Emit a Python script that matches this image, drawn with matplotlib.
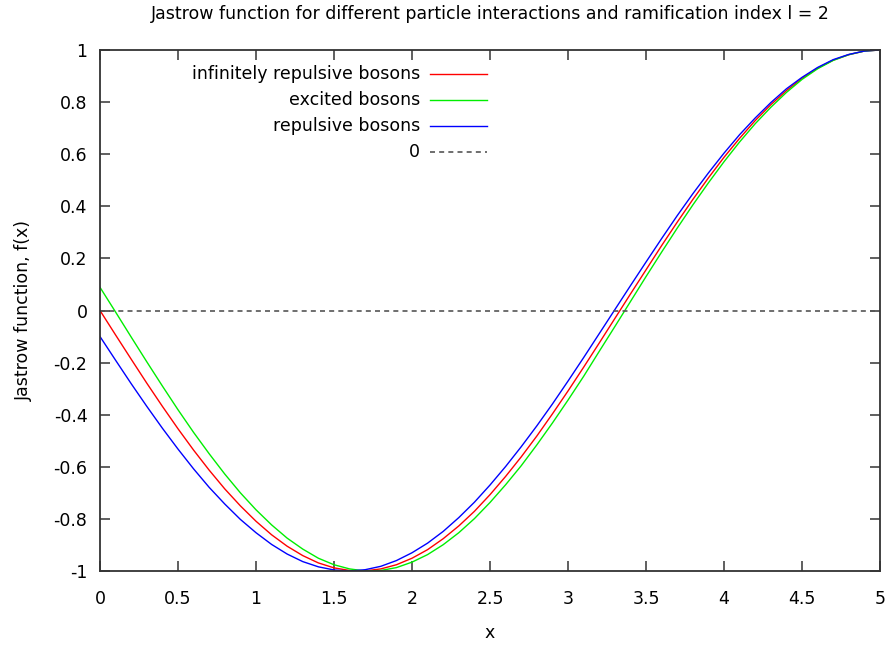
import matplotlib
matplotlib.use("Agg")
import matplotlib.pyplot as plt
import numpy as np

x_vals = [round(0.1 * i, 1) for i in range(51)]

infinitely_repulsive = [
    0.000, -0.094, -0.187, -0.279, -0.368, -0.454, -0.536, -0.613, -0.685, -0.750,
    -0.809, -0.861, -0.905, -0.941, -0.969, -0.988, -0.998, -0.9995, -0.992, -0.976,
    -0.951, -0.918, -0.876, -0.827, -0.771, -0.707, -0.637, -0.562, -0.482, -0.397,
    -0.309, -0.218, -0.125, -0.031, 0.063, 0.156, 0.249, 0.339, 0.426, 0.509,
    0.588, 0.661, 0.729, 0.790, 0.844, 0.891, 0.930, 0.961, 0.982, 0.996, 1.000]

excited = [
    0.089, -0.006, -0.102, -0.197, -0.290, -0.381, -0.468, -0.550, -0.628, -0.700,
    -0.765, -0.823, -0.874, -0.916, -0.951, -0.976, -0.992, -1.000, -0.998, -0.987,
    -0.966, -0.937, -0.899, -0.853, -0.799, -0.737, -0.669, -0.596, -0.516, -0.432,
    -0.344, -0.253, -0.157, -0.062, 0.034, 0.130, 0.224, 0.316, 0.405, 0.490,
    0.571, 0.647, 0.717, 0.780, 0.837, 0.887, 0.928, 0.960, 0.982, 0.996, 1.000]

repulsive = [
    -0.100, -0.191, -0.281, -0.368, -0.452, -0.532, -0.608, -0.679, -0.743, -0.802,
    -0.853, -0.898, -0.935, -0.964, -0.984, -0.996, -1.000, -0.995, -0.982, -0.960,
    -0.930, -0.893, -0.848, -0.795, -0.736, -0.670, -0.599, -0.523, -0.443, -0.359,
    -0.271, -0.181, -0.089, 0.003, 0.095, 0.186, 0.276, 0.364, 0.448, 0.528,
    0.604, 0.675, 0.739, 0.798, 0.851, 0.895, 0.933, 0.963, 0.983, 0.996, 1.000]

series_labels = ["infinitely repulsive bosons", "excited bosons", "repulsive bosons", "0"]
x_ticks = [0, 0.5, 1, 1.5, 2, 2.5, 3, 3.5, 4, 4.5, 5]
x_tick_labels = ["0", "0.5", "1", "1.5", "2", "2.5", "3", "3.5", "4", "4.5", "5"]
y_ticks = [-1, -0.8, -0.6, -0.4, -0.2, 0, 0.2, 0.4, 0.6, 0.8, 1]
y_tick_labels = ["-1", "-0.8", "-0.6", "-0.4", "-0.2", "0", "0.2", "0.4", "0.6", "0.8", "1"]

FS = 12.5
plt.rcParams['font.family'] = ['DejaVu Sans']
fig = plt.figure(figsize=(8.94, 6.51), dpi=100)
ax = fig.add_axes([100/894, 1 - 571/651, 780/894, 521/651])

colors = ['#ff0000', '#00ee00', '#0000ff']
styles = [dict(color=c, lw=1.0) for c in colors]
zero_style = dict(color='#555555', lw=1.2, ls=(0, (3, 2.5)))

for ys, st in zip([infinitely_repulsive, excited, repulsive], styles):
    ax.plot(x_vals, ys, **st)
ax.plot([x_vals[0], x_vals[-1]], [0, 0], **zero_style)

ax.set_xlim(0, 5)
ax.set_ylim(-1, 1)
ax.set_xticks(x_ticks)
ax.set_xticklabels(x_tick_labels)
ax.set_yticks(y_ticks)
ax.set_yticklabels(y_tick_labels)
ax.tick_params(direction='in', length=7, width=1.2, color='#444444',
               top=True, right=True, labelsize=FS)
ax.tick_params(axis='x', pad=14)
ax.tick_params(axis='y', pad=9)
for s in ax.spines.values():
    s.set_color('#333333')
    s.set_linewidth(1.3)

ax.set_xlabel("x", fontsize=FS)
ax.xaxis.set_label_coords(0.5, -(638 - 571) / 521)
ax.xaxis.label.set_va('baseline')
ax.set_ylabel("Jastrow function, f(x)", fontsize=FS)
ax.yaxis.set_label_coords((33 - 100) / 780, 0.5)
fig.text(490/894, 1 - 14/651, "Jastrow function for different particle interactions and ramification index l = 2",
         ha='center', va='center', fontsize=FS)

# legend drawn manually (gnuplot style: right-aligned text, sample on right)
leg_styles = styles + [zero_style]
for i, (lab, st) in enumerate(zip(series_labels, leg_styles)):
    yf = 74 + 26 * i
    ya = 1 - (yf - 50) / 521
    ax.text((420 - 100) / 780, ya, lab, transform=ax.transAxes, ha='right', va='center', fontsize=FS)
    ax.plot([(430 - 100) / 780, (487 - 100) / 780], [ya, ya], transform=ax.transAxes, **st)

fig.savefig("out.png", dpi=100)
